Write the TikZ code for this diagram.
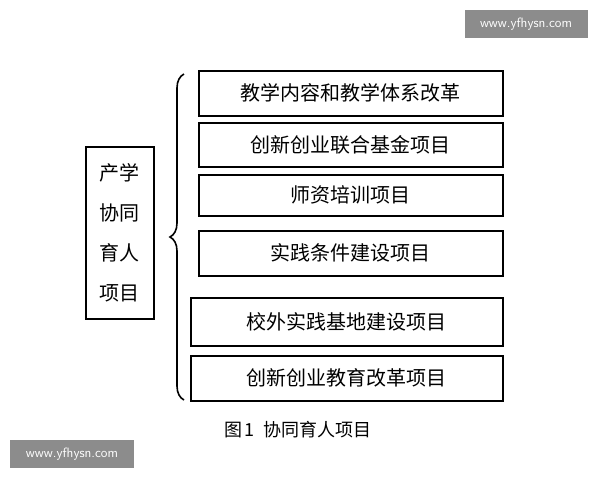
\documentclass[tikz,border=0pt]{standalone}
\usepackage{fontspec}
\setmainfont{Liberation Serif}
\newfontfamily\cjk{Noto Sans CJK SC}
\usetikzlibrary{positioning,decorations.pathreplacing}
\tikzset{
  item/.style={draw,line width=1.6pt,anchor=north west,inner sep=0pt,
    font=\cjk\fontsize{20}{20}\selectfont},
  wmark/.style={fill=black!45,text=white,inner sep=0pt,font=\sffamily\fontsize{13.5}{13.5}\selectfont}
}
\begin{document}
\begin{tikzpicture}[x=1pt,y=-1pt]
\useasboundingbox (0,0) rectangle (600,480);
\node[item,minimum width=304,minimum height=45] (a) at (198,70) {教学内容和教学体系改革};
\node[item,minimum width=304,minimum height=44] (b) at (198,122) {创新创业联合基金项目};
\node[item,minimum width=304,minimum height=41] (c) at (198,174) {师资培训项目};
\node[item,minimum width=304,minimum height=45] (d) at (198,230) {实践条件建设项目};
\node[item,minimum width=312,minimum height=48] (e) at (190,297) {校外实践基地建设项目};
\node[item,minimum width=312,minimum height=45] (f) at (190,355) {创新创业教育改革项目};
\node[item,minimum width=68,minimum height=172,align=center,
  font=\cjk\fontsize{20}{40}\selectfont] (g) at (85,146) {产学\\协同\\育人\\项目};
\draw[line width=1.6pt,decorate,decoration={brace,amplitude=14pt}]
  (184,400) -- (184,74);
\node[font=\cjk\fontsize{18}{18}\selectfont] (cap) at (298,430) {图\,1\enspace 协同育人项目};
% watermarks
\node[wmark,minimum width=123,minimum height=28] (w1) at (526,24) {www.yfhysn.com};
\node[wmark,minimum width=124,minimum height=28] (w2) at (72,454) {www.yfhysn.com};
\end{tikzpicture}
\end{document}
